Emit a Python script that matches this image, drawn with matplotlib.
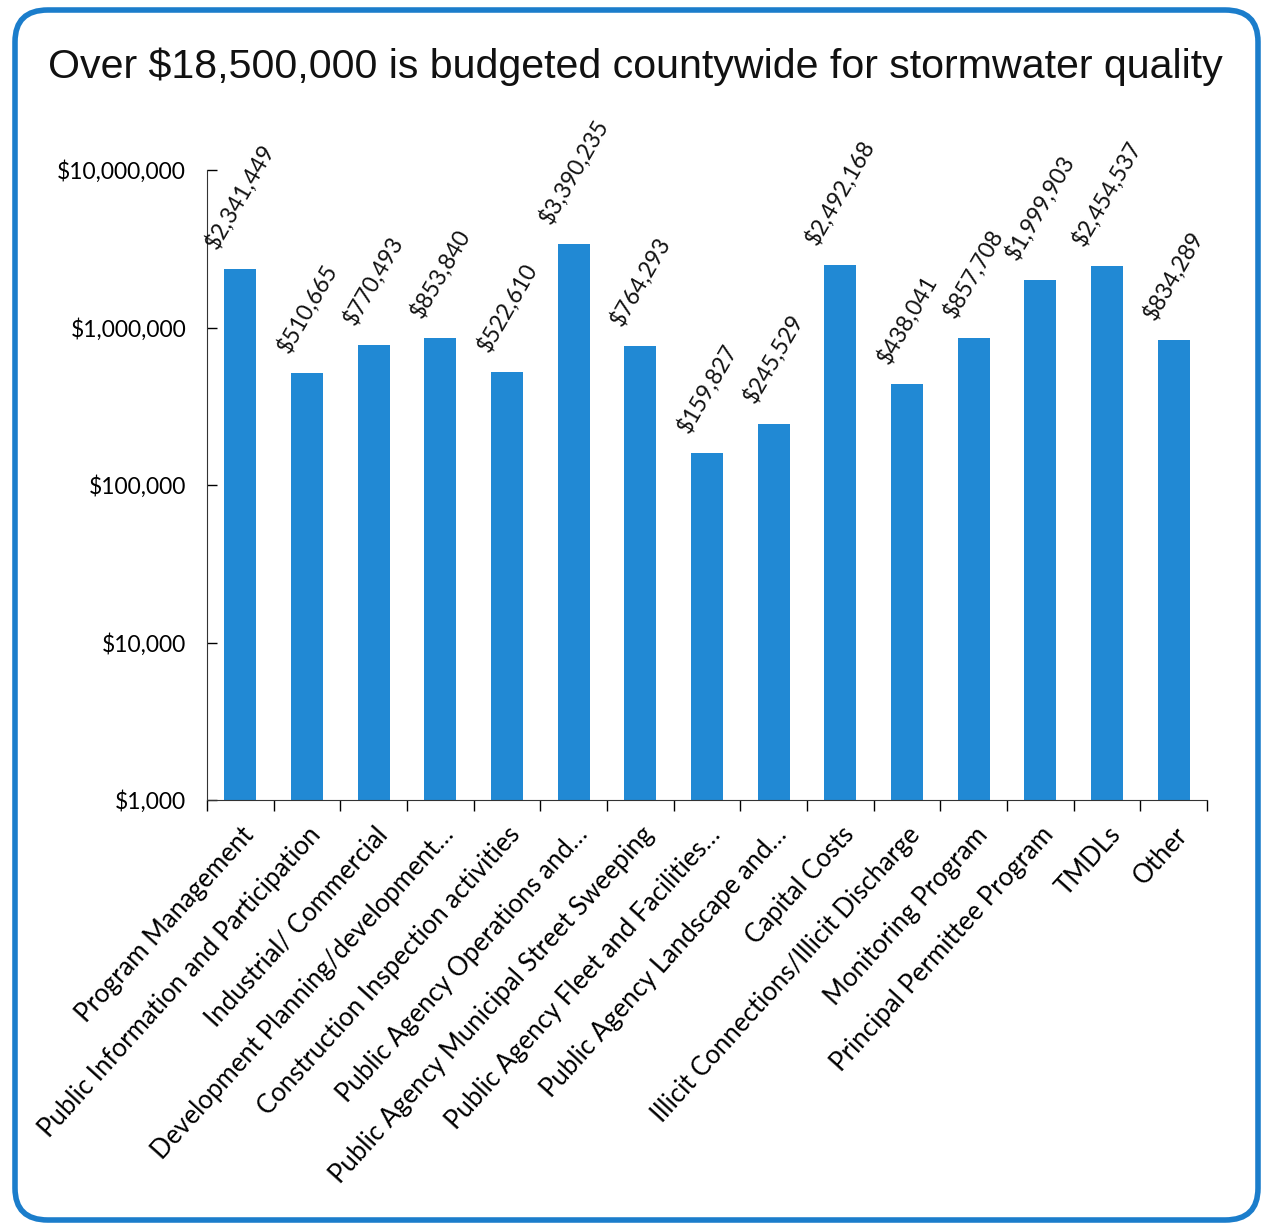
import matplotlib.pyplot as plt
from matplotlib.patches import FancyBboxPatch
from matplotlib.ticker import FixedLocator, NullLocator

categories = [
    "Program Management",
    "Public Information and Participation",
    "Industrial/ Commercial",
    "Development Planning/development…",
    "Construction Inspection activities",
    "Public Agency Operations and…",
    "Public Agency Municipal Street Sweeping",
    "Public Agency Fleet and Facilities…",
    "Public Agency Landscape and…",
    "Capital Costs",
    "Illicit Connections/Illicit Discharge",
    "Monitoring Program",
    "Principal Permittee Program",
    "TMDLs",
    "Other",
]
budget = [2341449, 510665, 770493, 853840, 522610, 3390235, 764293, 159827,
          245529, 2492168, 438041, 857708, 1999903, 2454537, 834289]
y_ticks = [1000, 10000, 100000, 1000000, 10000000]
y_tick_labels = ["$1,000", "$10,000", "$100,000", "$1,000,000", "$10,000,000"]

title = "Over $18,500,000 is budgeted countywide for stormwater quality"

W, H = 1262, 1224
fig = plt.figure(figsize=(W / 100, H / 100), dpi=100)
fig.patch.set_facecolor("white")

# rounded blue frame round the whole chart
frame = FancyBboxPatch((15 / W, 4 / H), 1243 / W, 1210 / H,
                       boxstyle="round,pad=0,rounding_size=0.026",
                       transform=fig.transFigure, fill=False,
                       edgecolor="#1B7DCB", linewidth=4)
fig.patches.append(frame)

fig.text(48 / W, 1 - 67 / H, title, fontsize=29.6, family="Liberation Sans",
         ha="left", va="center", color="#111111")

ax = fig.add_axes([207 / W, 1 - 800 / H, 1000 / W, 630 / H])
x = list(range(len(categories)))
ax.bar(x, budget, width=0.48, color="#2189D4")
ax.set_yscale("log")
ax.set_ylim(1000, 10000000)
ax.set_xlim(-0.5, len(categories) - 0.5)

ax.yaxis.set_major_locator(FixedLocator(y_ticks))
ax.yaxis.set_minor_locator(NullLocator())
ax.set_yticklabels(y_tick_labels, family="Lato", fontsize=16.5)
ax.tick_params(axis="y", direction="in", length=7, width=1, pad=15)

ax.set_xticks(x)
ax.set_xticklabels(categories, rotation=48, ha="right", rotation_mode="anchor",
                   family="Lato", fontsize=18.5)
ax.tick_params(axis="x", length=0, pad=16)
ax.set_xticks([i - 0.5 for i in range(len(categories) + 1)], minor=True)
ax.tick_params(axis="x", which="minor", direction="out", length=8, width=1)

for s in ["top", "right"]:
    ax.spines[s].set_visible(False)
for s in ["left", "bottom"]:
    ax.spines[s].set_color("#333333")

for xi, v in zip(x, budget):
    ax.annotate(f"${v:,}", (xi, v), xytext=(0, 12), textcoords="offset points",
                rotation=60, ha="center", va="bottom", family="Lato",
                fontsize=16.5, color="#111111")

fig.savefig("out.png", dpi=100)
